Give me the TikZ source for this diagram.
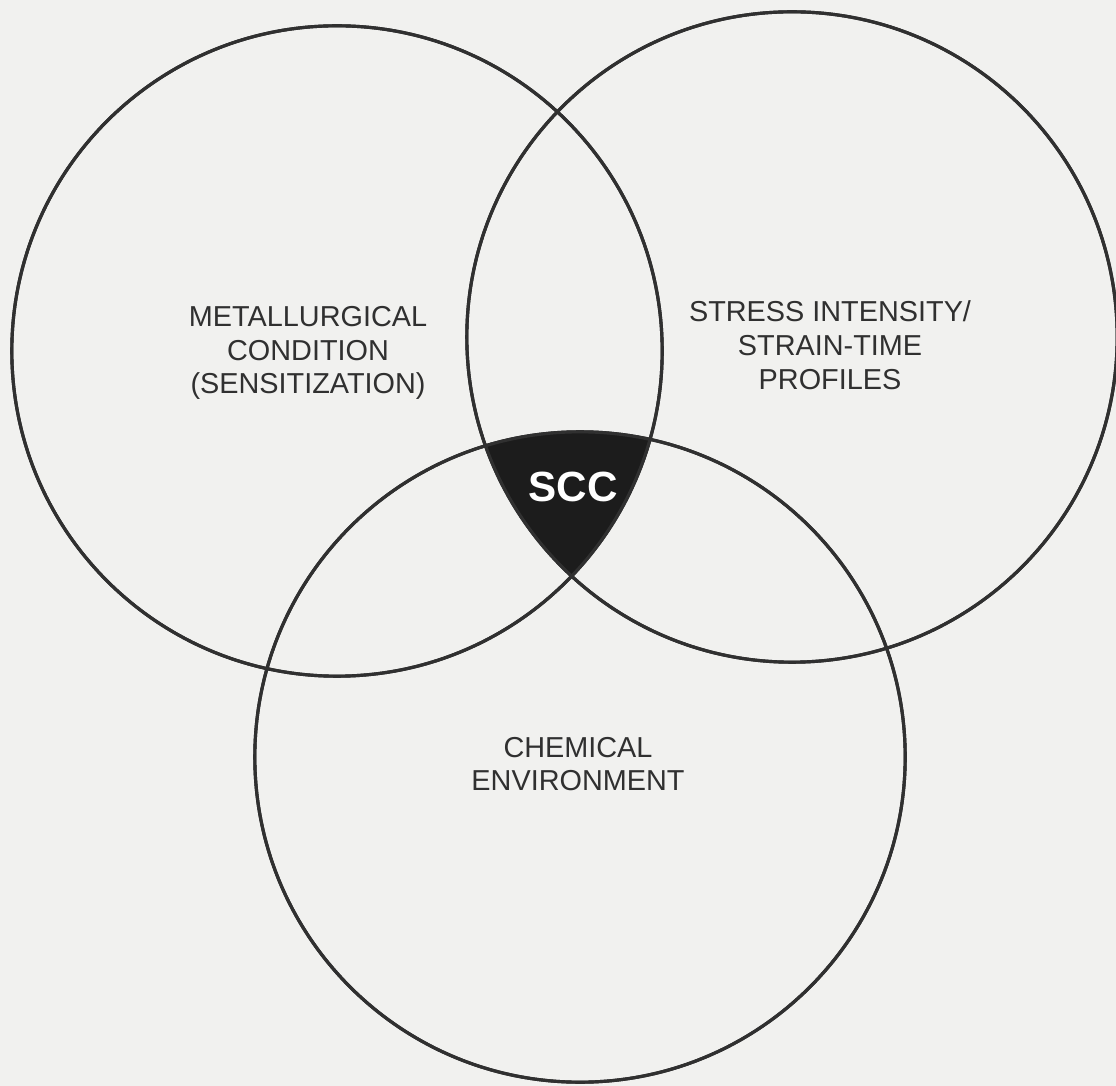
\documentclass[tikz,border=0pt]{standalone}
\usepackage{fontspec}
\setmainfont{Liberation Sans}
\usetikzlibrary{positioning}
\definecolor{paper}{RGB}{241,241,239}
\definecolor{ink}{RGB}{48,48,48}
\definecolor{blot}{RGB}{28,28,28}

\begin{document}
\begin{tikzpicture}[x=0.01cm, y=-0.01cm,
  every node/.style={font=\fontsize{8.2}{9.6}\selectfont, text=ink, align=center},
  ring/.style={draw=ink, line width=0.9pt, circle, minimum size=6.5cm, inner sep=0pt}]
\fill[paper] (0,0) rectangle (1116,1086);
\useasboundingbox (0,0) rectangle (1116,1086);
\node[ring] (metal) at (337,351) {};
\node[ring] (stress) at (792,337) {};
\node[ring] (chem) at (580,757) {};
% common region of the three rings
\begin{scope}
\clip (metal.center) circle[radius=3.25cm];
\clip (stress.center) circle[radius=3.25cm];
\fill[blot] (chem.center) circle[radius=3.25cm];
\end{scope}
\node[ring] at (metal.center) {};
\node[ring] at (stress.center) {};
\node[ring] at (chem.center) {};
\node (metaltxt) at (308,353) {METALLURGICAL\\CONDITION\\(SENSITIZATION)};
\node (stresstxt) at (830,345) {STRESS INTENSITY/\\STRAIN-TIME\\PROFILES};
\node (chemtxt) at (578,764) {CHEMICAL\\ENVIRONMENT};
\node[font=\fontsize{12}{14}\selectfont\bfseries, text=white] (scc) at (573,487) {SCC};
\end{tikzpicture}
\end{document}
